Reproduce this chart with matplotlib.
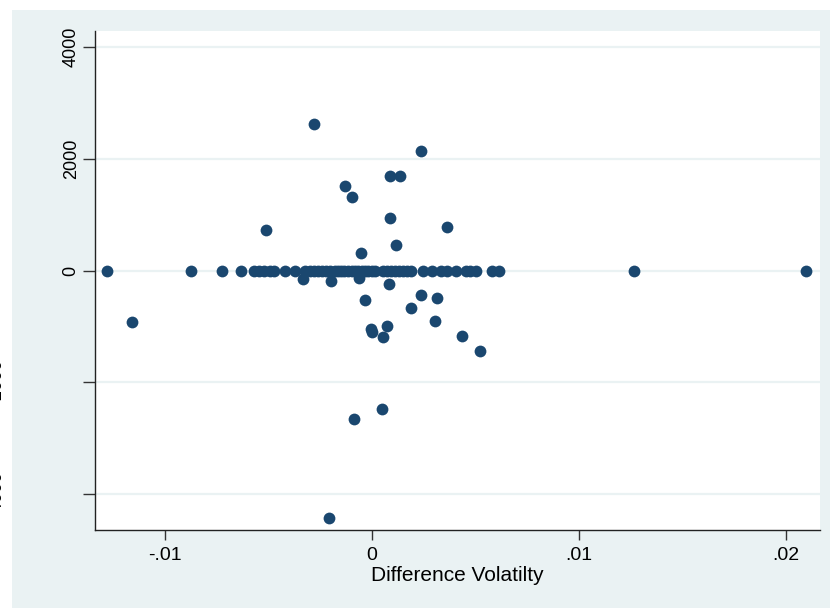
import matplotlib.pyplot as plt
from matplotlib.patches import Rectangle

plt.rcParams['font.family'] = ['Liberation Sans', 'DejaVu Sans']

# points sitting on the zero line
x_zero = [-0.0128, -0.00874, -0.00725, -0.00633, -0.0057, -0.00546, -0.00522, -0.00493,
          -0.00473, -0.0042, -0.00372, -0.00324, -0.003, -0.0028, -0.00261, -0.00242,
          -0.00222, -0.00203, -0.00179, -0.00164, -0.0015, -0.00135, -0.00116, -0.00097,
          -0.00082, -0.00068, -0.00048, -0.00034, -0.00019, 0.0, 0.00014, 0.00053, 0.00072,
          0.00092, 0.00111, 0.0013, 0.0015, 0.00169, 0.00188, 0.00246, 0.0029, 0.00333,
          0.00362, 0.00406, 0.00454, 0.00473, 0.00502, 0.0058, 0.00614, 0.01266, 0.02097]

# the rest
x_other = [-0.0116, -0.00512, -0.0028, 0.00235, -0.0013, -0.00098, 0.00087, 0.00134,
           0.00086, 0.00364, 0.00117, -0.00053, -0.00333, -0.00198, -0.00063, 0.00082,
           -0.00035, 0.00237, 0.00314, 0.0019, 0.00304, -0.00003, 0.0, 0.00072, 0.00052,
           0.00433, 0.00522, 0.00047, -0.00088, -0.00209]
y_other = [-926, 730, 2623, 2142, 1519, 1318, 1697, 1692,
           939, 778, 463, 321, -160, -178, -142, -249,
           -522, -445, -493, -671, -896, -1045, -1099, -992, -1199,
           -1170, -1448, -2476, -2666, -4429]

xticks = [-0.01, 0, 0.01, 0.02]
xtick_labels = ["-.01", "0", ".01", ".02"]
yticks = [-4000, -2000, 0, 2000, 4000]
ytick_labels = ["-4000", "-2000", "0", "2000", "4000"]

W, H = 830, 608
fig = plt.figure(figsize=(W / 100, H / 100), dpi=100, facecolor="white")
bg = Rectangle((12 / W, 0), 1 - 12 / W, 1 - 10 / H, transform=fig.transFigure,
               facecolor="#eaf2f3", edgecolor="none", zorder=-1)
fig.add_artist(bg)

ax = fig.add_axes([95 / W, 1 - 530 / H, (820 - 95) / W, (530 - 31) / H])
ax.set_facecolor("white")

col = "#1a476f"
ax.scatter(x_zero, [0] * len(x_zero), s=72, color=col, linewidths=0, zorder=3)
ax.scatter(x_other, y_other, s=72, color=col, linewidths=0, zorder=3)

ax.set_xlim(-0.01338, 0.02164)
ax.set_ylim(-4648, 4292)

ax.set_xticks(xticks)
ax.set_xticklabels(xtick_labels, fontsize=14)
ax.set_yticks(yticks)
# only the top three labels sit next to the axis
ax.set_yticklabels(["", ""] + ytick_labels[2:], fontsize=13, rotation=90, va="center")
ax.tick_params(axis="x", length=7, width=1, color="#333333", pad=5)
ax.tick_params(axis="y", length=9, width=1, color="#333333", pad=2)

ax.grid(axis="y", color="#eaf2f3", linewidth=1.6, zorder=0)
ax.set_axisbelow(True)
for s in ["top", "right"]:
    ax.spines[s].set_visible(False)
for s in ["left", "bottom"]:
    ax.spines[s].set_color("#222222")
    ax.spines[s].set_linewidth(1)

ax.set_xlabel("Difference Volatilty", fontsize=15, labelpad=2)

# the negative labels fall off the left edge in the original
for v, lab in zip(yticks[:2], ytick_labels[:2]):
    fig.text(5 / W, ax.transData.transform((0, v))[1] / H, lab, rotation=90,
             ha="right", va="center", fontsize=13)

fig.savefig("out.png", dpi=100, facecolor="white")
